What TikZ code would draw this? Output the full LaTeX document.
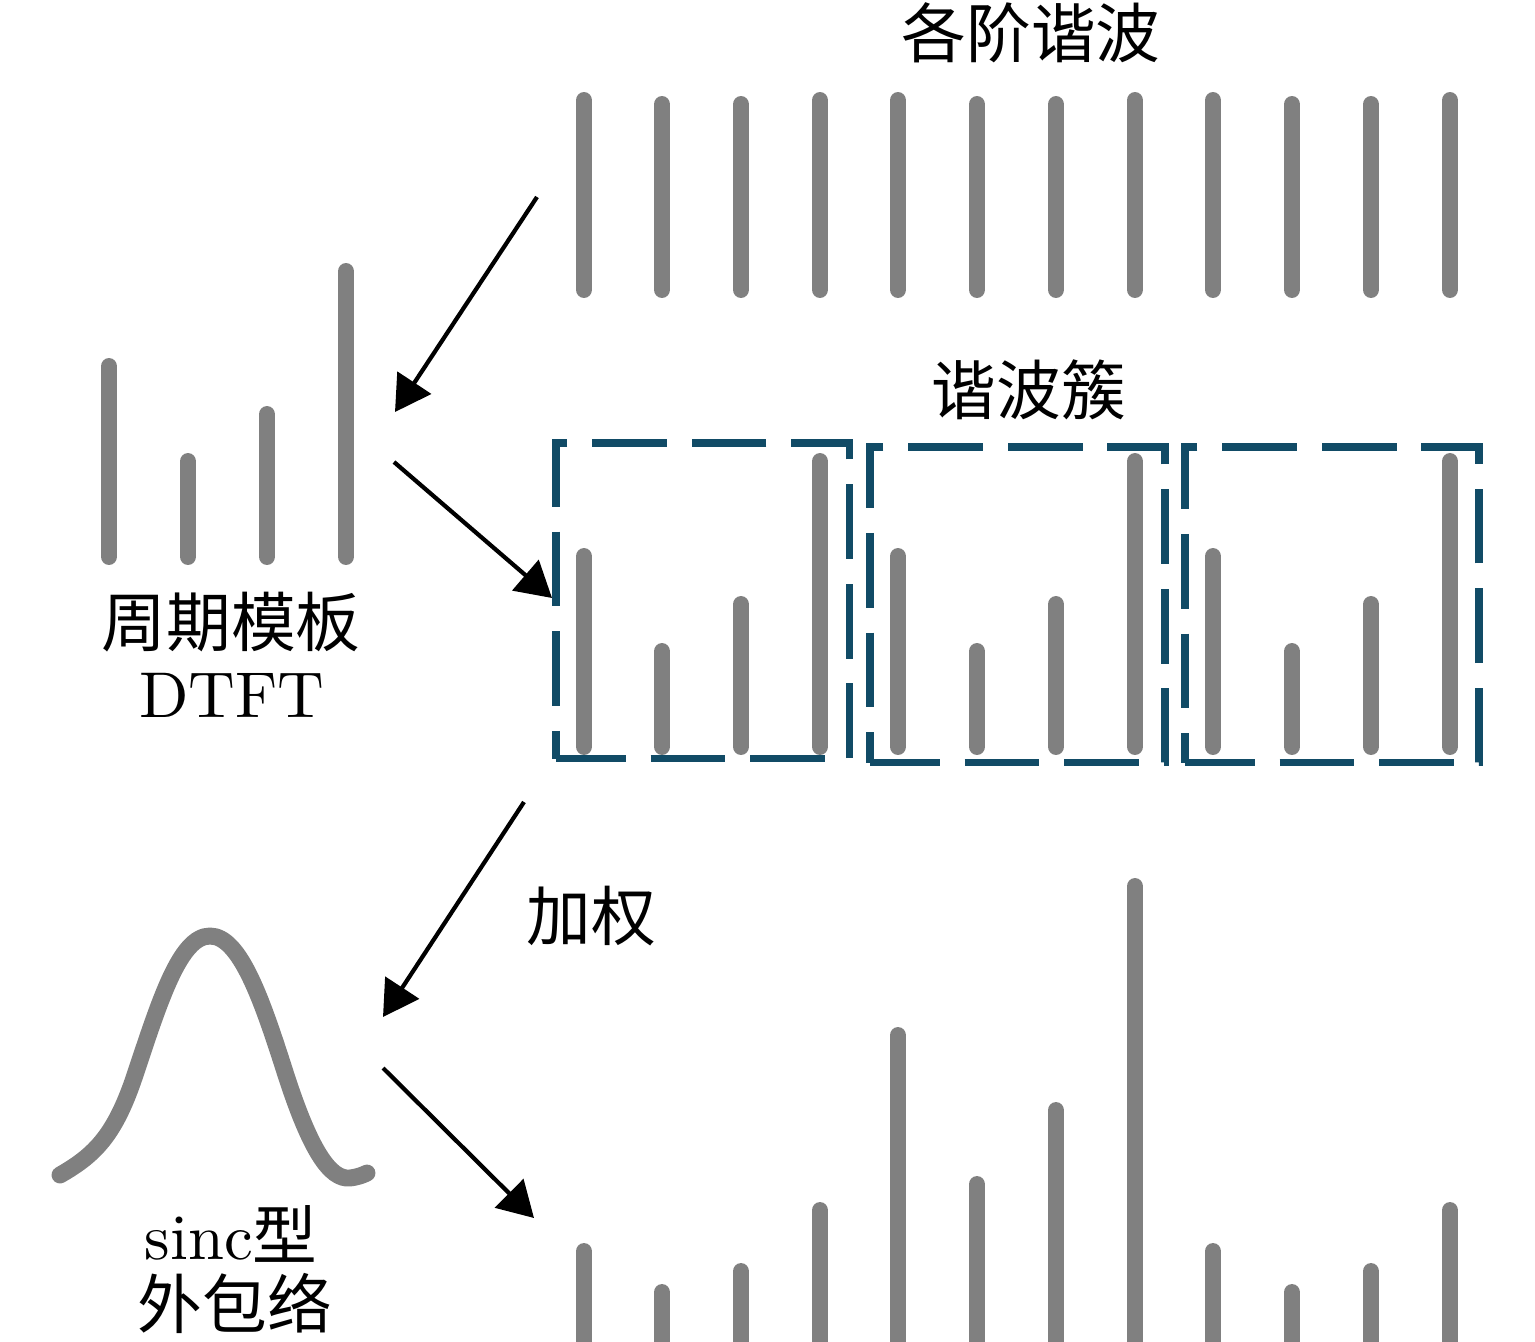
\documentclass[tikz,border=0pt]{standalone}
\usepackage{fontspec}
\newfontfamily\cjk{Noto Sans CJK SC}
\newfontfamily\lmten{lmroman10-regular.otf}
\usetikzlibrary{arrows.meta}
\definecolor{bargray}{RGB}{128,128,128}
\definecolor{boxblue}{RGB}{17,75,102}
\begin{document}
\begin{tikzpicture}[x=0.02cm,y=-0.02cm,
  bar/.style={draw=bargray,line width=9.64pt,line cap=round},
  envcurve/.style={draw=bargray,line width=9.64pt,line cap=round,line join=round},
  dbox/.style={draw=boxblue,line width=4.54pt,dash pattern=on 42.52pt off 14.17pt,dash phase=2.83pt},
  flow/.style={draw=black,line width=2.4pt,-{Triangle[length=20pt,width=22.7pt]}},
  lbl/.style={inner sep=0pt,font=\fontsize{36.85pt}{44pt}\selectfont\lmten}]
\useasboundingbox (0,0) rectangle (1535,1342);

% top row: harmonics
\foreach \x/\t in {584/92,662/96,741/96,820/92,898/92,977/96,1056/96,1135/92,1213/92,1292/96,1371/96,1450/92}
  \draw[bar] (\x,\t+8.5) -- (\x,289.5);

% template
\foreach \x/\t in {109/358,188/453,267/406,346/263}
  \draw[bar] (\x,\t+8.5) -- (\x,556.5);

% clusters
\foreach \x/\t in {584/548,662/643,741/596,820/453,898/548,977/643,1056/596,1135/453,1213/548,1292/643,1371/596,1450/453}
  \draw[bar] (\x,\t+8.5) -- (\x,746.5);

% dashed boxes
\draw[dbox] (556,758.5) -- (849.5,758.5) -- (849.5,443) -- (556,443) -- cycle;
\draw[dbox] (870,762.5) -- (1164.5,762.5) -- (1164.5,446.7) -- (870,446.7) -- cycle;
\draw[dbox] (1185,762.5) -- (1479,762.5) -- (1479,446.7) -- (1185,446.7) -- cycle;

% weighted bars
\foreach \x/\t in {584/1243,662/1284,741/1263,820/1202,898/1027,977/1176,1056/1102,1135/878,1213/1243,1292/1284,1371/1263,1450/1202}
  \draw[bar] (\x,\t+8.5) -- (\x,1360);

% sinc envelope
\draw[envcurve] (60,1175) .. controls (95,1155) and (115,1135) .. (135,1075)
  .. controls (160,1000) and (180,936) .. (210,936)
  .. controls (240,936) and (262,1000) .. (285,1072)
  .. controls (310,1150) and (330,1180) .. (350,1178)
  .. controls (358,1177) and (363,1175) .. (367,1173);

% labels
\node[lbl] (harm) at (1031,33) {\cjk 各阶谐波};
\node[lbl] (clus) at (1029,390) {\cjk 谐波簇};
\node[lbl] (tmp1) at (231,622) {\cjk 周期模板};
\node[lbl] (tmp2) at (232,695) {DTFT};
\node[lbl] (wgt) at (591,916) {\cjk 加权};
\node[lbl] (env1) at (231,1234) {sinc{\cjk 型}};
\node[lbl] (env2) at (235,1303) {\cjk 外包络};

% arrows
\coordinate (a1s) at (537,197);
\coordinate (a1e) at (395,412);
\coordinate (a2s) at (394,462);
\coordinate (a2e) at (552,598);
\coordinate (a3s) at (524,802);
\coordinate (a3e) at (383,1017);
\coordinate (a4s) at (383,1068);
\coordinate (a4e) at (534,1218);
\draw[flow] (a1s) -- (a1e);
\draw[flow] (a2s) -- (a2e);
\draw[flow] (a3s) -- (a3e);
\draw[flow] (a4s) -- (a4e);
\end{tikzpicture}
\end{document}
